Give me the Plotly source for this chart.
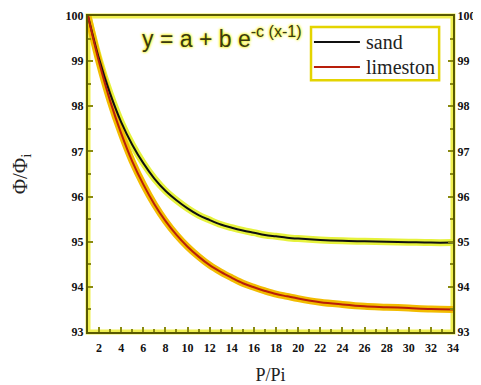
import plotly.graph_objects as go

x_vals = [1, 2, 3, 4, 5, 6, 7, 8, 9, 10, 11, 12, 13, 14, 15, 16, 17, 18, 19, 20,
          22, 24, 26, 28, 30, 32, 34]
sand = [100.0, 99.05, 98.28, 97.65, 97.15, 96.74, 96.40, 96.13, 95.92, 95.74, 95.59,
        95.48, 95.38, 95.31, 95.25, 95.20, 95.15, 95.12, 95.09, 95.07, 95.04, 95.02,
        95.01, 95.00, 94.99, 94.98, 94.98]
limestone = [100.0, 98.98, 98.12, 97.40, 96.78, 96.27, 95.83, 95.46, 95.15, 94.89, 94.67,
             94.48, 94.33, 94.20, 94.08, 93.99, 93.91, 93.84, 93.79, 93.74, 93.66, 93.61,
             93.57, 93.55, 93.53, 93.51, 93.50]
series_names = ["sand", "limeston"]
x_ticks = list(range(2, 35, 2))
y_ticks = [93, 94, 95, 96, 97, 98, 99, 100]
equation = "y = a + b e<sup>-c (x-1)</sup>"

SERIF = "Liberation Serif"
LINE_COLORS = ["#101010", "#b81e0a"]
HALO_COLORS = ["#e6f23c", "#f2bc00"]

fig = go.Figure()
for ys, hc in zip([sand, limestone], HALO_COLORS):
    fig.add_trace(go.Scatter(x=x_vals, y=ys, mode="lines", line=dict(color=hc, width=7, shape="spline"),
                             showlegend=False, hoverinfo="skip"))
for ys, nm, lc in zip([sand, limestone], series_names, LINE_COLORS):
    fig.add_trace(go.Scatter(x=x_vals, y=ys, mode="lines", name=nm,
                             line=dict(color=lc, width=2, shape="spline"), showlegend=False))
# invisible trace for right axis
fig.add_trace(go.Scatter(x=[x_vals[0]], y=[sand[0]], yaxis="y2", mode="markers",
                         marker=dict(opacity=0), showlegend=False, hoverinfo="skip"))

tickfont = dict(family=SERIF, size=12, color="#111111", weight="bold")
axis_common = dict(showline=True, linecolor="#5a5a00", linewidth=2, ticks="inside",
                   tickcolor="#8a8a10", tickwidth=2, ticklen=5, showgrid=False, zeroline=False,
                   tickfont=tickfont, automargin=False)
minor_y = dict(dtick=0.5, tick0=93, ticks="inside", ticklen=3, tickcolor="#8a8a10", tickwidth=2)

# manual legend box (paper coordinates)
leg_x0, leg_x1, leg_y0, leg_y1 = 0.611, 0.962, 0.797, 0.965
leg_rows = [0.918, 0.839]
shapes = [dict(type="rect", xref="paper", yref="paper", x0=0, y0=0, x1=1, y1=1,
               line=dict(color="#f0f050", width=5), layer="below"),
          dict(type="rect", xref="paper", yref="paper", x0=leg_x0, y0=leg_y0, x1=leg_x1, y1=leg_y1,
               line=dict(color="#e4d400", width=2.5), fillcolor="white")]
annotations = [dict(x=0.142, y=0.935, xref="paper", yref="paper", xanchor="left", yanchor="middle",
                    text=equation, showarrow=False,
                    font=dict(family="Liberation Sans", size=23, color="#3a3a10",
                              shadow="0px 0px 3px #f0f000, 0px 0px 3px #f0f000"))]
for ry, nm, lc in zip(leg_rows, series_names, LINE_COLORS):
    shapes.append(dict(type="line", xref="paper", yref="paper", x0=0.619, x1=0.745, y0=ry, y1=ry,
                       line=dict(color=lc, width=2)))
    annotations.append(dict(x=0.756, y=ry, xref="paper", yref="paper", xanchor="left", yanchor="middle",
                            text=nm, showarrow=False,
                            font=dict(family=SERIF, size=20, color="#222222")))

fig.update_layout(
    width=473, height=377,
    font=dict(family=SERIF, color="#222222"),
    margin=dict(l=80, r=28, t=8, b=53, autoexpand=False),
    paper_bgcolor="white", plot_bgcolor="white",
    showlegend=False,
    xaxis=dict(range=[1, 34], tickvals=x_ticks, mirror=True, ticklabelstandoff=4,
               minor=dict(dtick=1, tick0=1, ticks="inside", ticklen=3, tickcolor="#8a8a10", tickwidth=2),
               title=dict(text="P/Pi", font=dict(family=SERIF, size=18, color="#222222"), standoff=16),
               **axis_common),
    yaxis=dict(range=[93, 100], tickvals=y_ticks, minor=minor_y,
               title=dict(text="Φ/Φ<sub>i</sub>", font=dict(family=SERIF, size=21, color="#222222"), standoff=33),
               **axis_common),
    yaxis2=dict(range=[93, 100], tickvals=y_ticks, overlaying="y", side="right",
                minor=minor_y, **axis_common),
    annotations=annotations,
    shapes=shapes,
)

fig.write_html("out.html")
